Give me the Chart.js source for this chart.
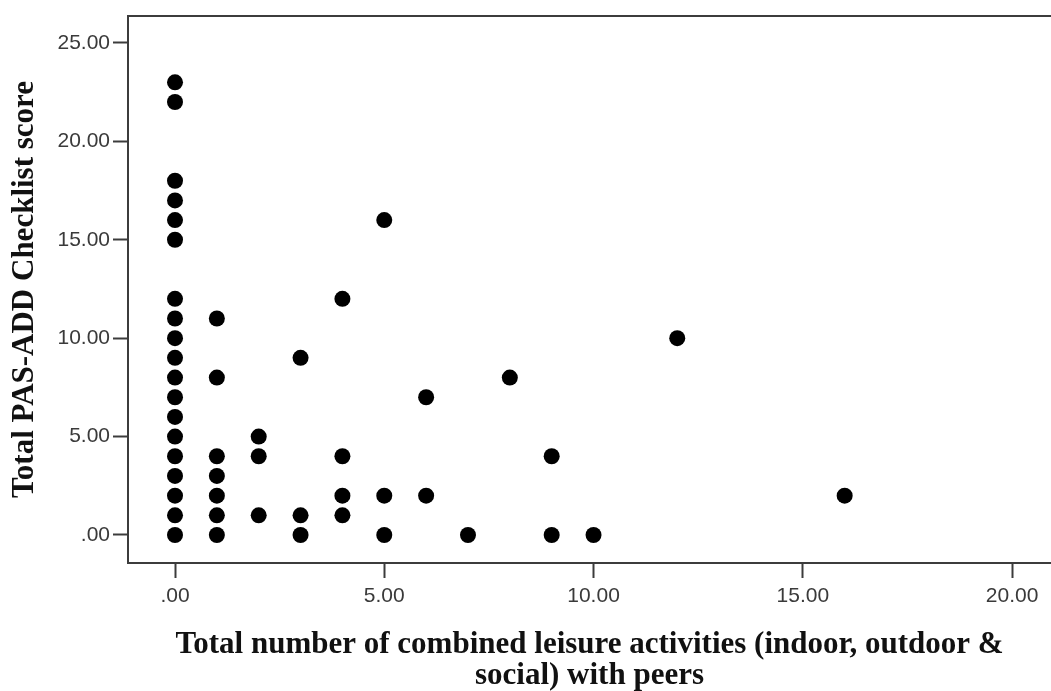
<!DOCTYPE html>
<html>
<head>
<meta charset="utf-8">
<script src="https://cdn.jsdelivr.net/npm/chart.js@4"></script>
<style>
  html, body { margin: 0; padding: 0; background: #ffffff; overflow: hidden; }
  #wrap { width: 1051px; height: 691px; position: relative; overflow: hidden; }
  #chart { display: block; }
</style>
</head>
<body>
<div id="wrap"><canvas id="chart" width="1051" height="691"></canvas></div>
<script>
// Leisure activities with peers (x) against PAS-ADD Checklist score (y), one entry per respondent
const leisureActivities = [
  0, 0, 0, 0, 0, 0, 0, 0, 0, 0, 0, 0, 0, 0, 0, 0, 0, 0, 0,
  1, 1, 1, 1, 1, 1, 1,
  2, 2, 2,
  3, 3, 3,
  4, 4, 4, 4,
  5, 5, 5,
  6, 6,
  7,
  8,
  9, 9,
  10,
  12,
  16
];
const pasAddScores = [
  0, 1, 2, 3, 4, 5, 6, 7, 8, 9, 10, 11, 12, 15, 16, 17, 18, 22, 23,
  0, 1, 2, 3, 4, 8, 11,
  1, 4, 5,
  0, 1, 9,
  1, 2, 4, 12,
  0, 2, 16,
  2, 7,
  0,
  8,
  0, 4,
  0,
  10,
  2
];

// Axis tick values and their printed labels
const xTickValues = [0, 5, 10, 15, 20];
const xTickLabels = ['.00', '5.00', '10.00', '15.00', '20.00'];
const yTickValues = [0, 5, 10, 15, 20, 25];
const yTickLabels = ['.00', '5.00', '10.00', '15.00', '20.00', '25.00'];

const xTitle = ['Total number of combined leisure activities (indoor, outdoor &', 'social) with peers'];
const yTitle = 'Total PAS-ADD Checklist score';

const points = leisureActivities.map((x, i) => ({ x: x, y: pasAddScores[i] }));

const axisColor = '#3c3c3c';
const tickFont = { family: '"Liberation Sans", Arial, sans-serif', size: 21 };
const xTitleFont = { family: '"Liberation Serif", "DejaVu Serif", serif', size: 31, weight: 'bold', lineHeight: 1.0 };
const yTitleFont = { family: '"Liberation Serif", "DejaVu Serif", serif', size: 31, weight: 'bold', lineHeight: 1.13 };

// Closes the frame along the top edge of the plotting area
const topFrame = {
  id: 'topFrame',
  afterDraw(chart) {
    const { ctx, chartArea } = chart;
    ctx.save();
    ctx.strokeStyle = axisColor;
    ctx.lineWidth = 2;
    ctx.beginPath();
    ctx.moveTo(chartArea.left - 1, chartArea.top);
    ctx.lineTo(chartArea.right, chartArea.top);
    ctx.stroke();
    ctx.restore();
  }
};

function fixedTicks(values) {
  return function (scale) {
    scale.ticks = values.map(v => ({ value: v }));
  };
}

new Chart(document.getElementById('chart'), {
  type: 'scatter',
  data: {
    datasets: [{
      data: points,
      backgroundColor: '#000000',
      borderColor: '#000000',
      borderWidth: 0,
      pointRadius: 8,
      pointHoverRadius: 8
    }]
  },
  plugins: [topFrame],
  options: {
    responsive: false,
    animation: false,
    layout: { autoPadding: false, padding: { top: 16, left: 0, right: 0, bottom: 0 } },
    plugins: {
      legend: { display: false },
      tooltip: { enabled: false }
    },
    scales: {
      x: {
        type: 'linear',
        min: -1.123,
        max: 20.93,
        afterBuildTicks: fixedTicks(xTickValues),
        afterFit(scale) {
          scale.height = 128;
          scale.paddingLeft = 0;
          scale.paddingRight = 0;
        },
        ticks: {
          color: '#3a3a3a',
          font: tickFont,
          padding: 6,
          maxRotation: 0,
          callback: (v) => xTickLabels[xTickValues.indexOf(v)]
        },
        grid: {
          drawOnChartArea: false,
          drawTicks: true,
          tickLength: 15,
          tickWidth: 2,
          tickColor: axisColor
        },
        border: { display: true, color: axisColor, width: 2 },
        title: {
          display: true,
          text: xTitle,
          color: '#111111',
          font: xTitleFont,
          padding: { top: 0, bottom: 0 }
        }
      },
      y: {
        type: 'linear',
        min: -1.423,
        max: 26.37,
        afterBuildTicks: fixedTicks(yTickValues),
        afterFit(scale) {
          scale.width = 128;
          scale.paddingTop = 0;
          scale.paddingBottom = 0;
        },
        ticks: {
          color: '#3a3a3a',
          font: tickFont,
          padding: 3,
          callback: (v) => yTickLabels[yTickValues.indexOf(v)]
        },
        grid: {
          drawOnChartArea: false,
          drawTicks: true,
          tickLength: 15,
          tickWidth: 2,
          tickColor: axisColor
        },
        border: { display: true, color: axisColor, width: 2 },
        title: {
          display: true,
          text: yTitle,
          color: '#111111',
          font: yTitleFont,
          padding: { top: 7, bottom: 0 }
        }
      }
    }
  }
});
</script>
</body>
</html>
